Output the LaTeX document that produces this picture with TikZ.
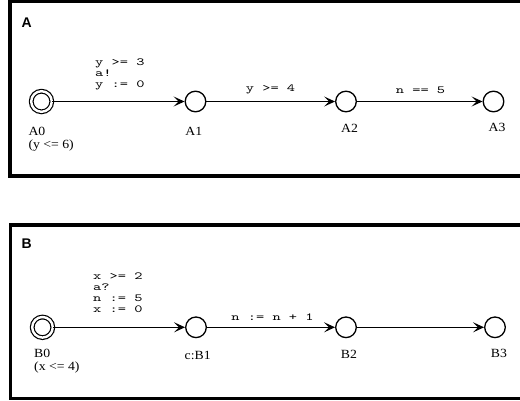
\documentclass[tikz,border=0pt]{standalone}
\usepackage{fontspec}
\usetikzlibrary{arrows.meta}
\newfontfamily\lblfont[FakeStretch=1.1]{Liberation Serif}
\newfontfamily\codefont[FakeStretch=1.45]{Latin Modern Mono}
\newfontfamily\ttlfont{Liberation Sans}
\tikzset{
  frame/.style={line width=3.5pt},
  loc/.style={circle, draw, line width=1.3pt, minimum size=20.6pt, inner sep=0pt},
  initloc/.style={loc, double, double distance=2.4pt, line width=1.2pt, minimum size=20.6pt},
  trans/.style={line width=1.3pt, -{Stealth[length=11pt,width=10pt,inset=5pt]}},
  code/.style={font=\codefont\fontsize{10.8}{10.8}\selectfont, inner sep=0pt, align=left},
  lbl/.style={font=\lblfont\fontsize{12.5}{13}\selectfont, inner sep=0pt},
  ttl/.style={font=\ttlfont\bfseries\fontsize{14}{14}\selectfont, inner sep=0pt, anchor=north west}
}
\begin{document}
\begin{tikzpicture}[x=1pt,y=-1pt]
\useasboundingbox (0,0) rectangle (520,400);
\clip (0,0) rectangle (520,400);
\fill[white] (0,0) rectangle (520,400);
% frames
\draw[frame] (10,1.7) rectangle (540,176);
\draw[frame] (10.5,225) rectangle (540,398.5);
\node[ttl] (tA) at (21.5,17.8) {A};
\node[ttl] (tB) at (21.5,238.8) {B};
% automaton A
\node[initloc] (A0) at (41.5,101.5) {};
\node[loc] (A1) at (195.5,101.5) {};
\node[loc] (A2) at (346,101.5) {};
\node[loc] (A3) at (493.5,101.5) {};
\draw[trans] (A0) -- (A1);
\draw[trans] (A1) -- (A2);
\draw[trans] (A2) -- (A3);
\node[lbl, anchor=base west, align=left] (lA0) at (28.3,148.5) {A0\\(y <= 6)};
\node[lbl, anchor=base] (lA1) at (193.8,135) {A1};
\node[lbl, anchor=base] (lA2) at (349.5,132.7) {A2};
\node[lbl, anchor=base] (lA3) at (497,131) {A3};
\node[code, anchor=north west] (eA01) at (95,59) {y >= 3\\a!\\y := 0};
\node[code, anchor=base] (eA12) at (270.5,91) {y >= 4};
\node[code, anchor=base] (eA23) at (420.5,93) {n == 5};
% automaton B
\node[initloc] (B0) at (42.5,327.3) {};
\node[loc] (B1) at (196,327.3) {};
\node[loc] (B2) at (346,327.3) {};
\node[loc] (B3) at (495,327.3) {};
\draw[trans] (B0) -- (B1);
\draw[trans] (B1) -- (B2);
\draw[trans] (B2) -- (B3);
\node[lbl, anchor=base west, align=left] (lB0) at (34,370.5) {B0\\(x <= 4)};
\node[lbl, anchor=base] (lB1) at (197.7,359.3) {c:B1};
\node[lbl, anchor=base] (lB2) at (349,358) {B2};
\node[lbl, anchor=base] (lB3) at (499,357.3) {B3};
\node[code, anchor=north west] (eB01) at (93,272.7) {x >= 2\\a?\\n := 5\\x := 0};
\node[code, anchor=base] (eB12) at (272.5,320) {n := n + 1};
\end{tikzpicture}
\end{document}
